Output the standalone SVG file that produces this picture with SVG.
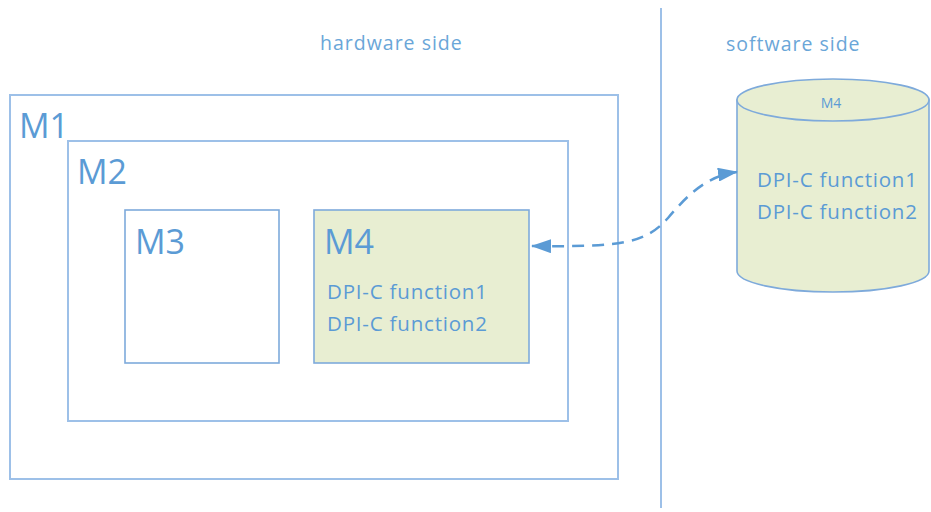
<svg xmlns="http://www.w3.org/2000/svg" width="931" height="512" viewBox="0 0 931 512">
  <defs>
    <style>
      .frame { fill: none; stroke: #9dc0e8; stroke-width: 2; }
      .box { stroke: #7eaadb; stroke-width: 1.6; }
      .label { font-family: "Open Sans", "Liberation Sans", sans-serif; fill: #5b9bd5; }
      .big { font-size: 34px; }
      .fn { font-size: 20.5px; letter-spacing: 0.8px; }
      .side { font-size: 19.5px; letter-spacing: 1px; fill: #6aa6d8; }
      .link { fill: none; stroke: #5b9bd5; stroke-width: 2.5; stroke-dasharray: 12 8; }
    </style>
    <marker id="arrow" viewBox="0 0 20 14" refX="19" refY="7" markerWidth="20" markerHeight="14" markerUnits="userSpaceOnUse" orient="auto-start-reverse">
      <path d="M0 0 L20 7 L0 14 Z" fill="#5b9bd5"/>
    </marker>
  </defs>

  <rect width="931" height="512" fill="#ffffff"/>

  <!-- side headings and divider -->
  <text class="label side" x="320" y="50">hardware side</text>
  <text class="label side" x="726" y="51">software side</text>
  <line x1="661" y1="8" x2="661" y2="508" stroke="#9dc0e8" stroke-width="2"/>

  <g id="M1">
    <rect class="frame" x="10" y="95" width="608" height="384"/>
    <text class="label big" x="19" y="138">M1</text>
  </g>

  <g id="M2">
    <rect class="frame" x="68" y="141" width="500" height="280"/>
    <text class="label big" x="77" y="184">M2</text>
  </g>

  <g id="M3">
    <rect class="box" x="125" y="210" width="154" height="153" fill="#ffffff"/>
    <text class="label big" x="135" y="254">M3</text>
  </g>

  <g id="M4-hw">
    <rect class="box" x="314" y="210" width="215" height="153" fill="#e8eed2"/>
    <text class="label big" x="324" y="254">M4</text>
    <text class="label fn" x="327" y="299">DPI-C function1</text>
    <text class="label fn" x="327" y="331">DPI-C function2</text>
  </g>

  <g id="M4-sw">
    <path d="M737 100 L737 271 A96 21 0 0 0 929 271 L929 100 Z" fill="#e8eed2" stroke="#7eaadb" stroke-width="1.6"/>
    <ellipse cx="833" cy="100" rx="96" ry="21" fill="#e8eed2" stroke="#7eaadb" stroke-width="1.6"/>
    <text class="label" x="831" y="108" font-size="14" text-anchor="middle">M4</text>
    <text class="label fn" x="757" y="187">DPI-C function1</text>
    <text class="label fn" x="757" y="219">DPI-C function2</text>
  </g>

  <g id="connectors">
    <path class="link" d="M532 246 C620 247 645 244 668 218 C690 192 708 176 737 172" marker-start="url(#arrow)" marker-end="url(#arrow)"/>
  </g>
</svg>
